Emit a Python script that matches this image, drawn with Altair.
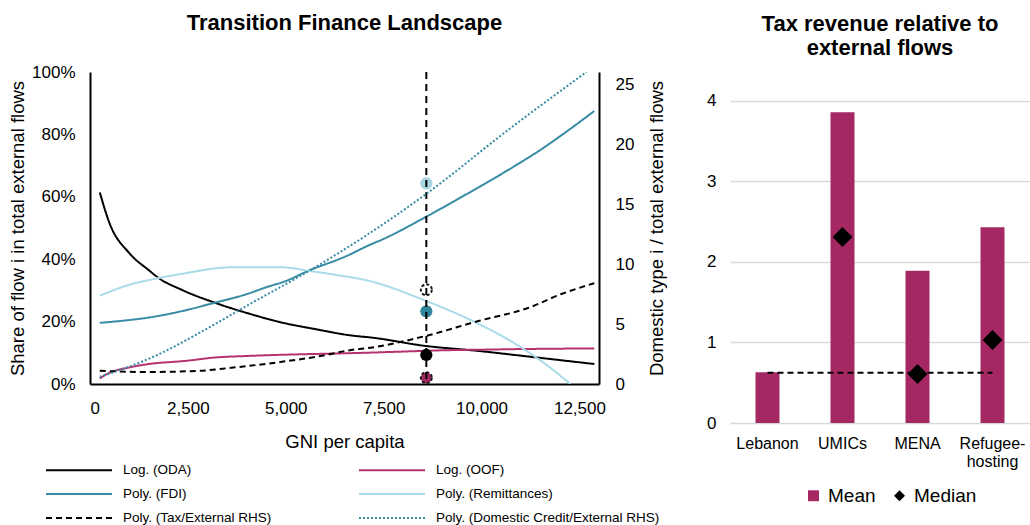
import altair as alt
import pandas as pd

FONT = "Liberation Sans"

# ---- Trend lines (GNI per capita vs. value) ----
oda_gni = [250, 500, 1000, 1500, 1750, 2340, 3200, 4050, 4900, 5750, 6770, 7110, 8570, 9920, 11200, 12880]
oda_val = [61.4, 51.5, 42.0, 36.5, 34.0, 30.2, 26.0, 22.6, 19.7, 17.6, 15.4, 15.0, 12.2, 10.6, 8.8, 6.4]

oof_gni = [250, 500, 1000, 1500, 2430, 3200, 4050, 5000, 6000, 7000, 8000, 9000, 10000, 11000, 12880]
oof_val = [1.8, 3.6, 5.3, 6.4, 7.4, 8.5, 9.0, 9.4, 9.7, 10.0, 10.4, 10.8, 11.0, 11.2, 11.4]

fdi_gni = [250, 1000, 1500, 2500, 3200, 4000, 4500, 5000, 5580, 6550, 7110, 7500, 8570, 9500, 10800, 11500, 12050, 12880]
fdi_val = [19.6, 20.5, 21.3, 23.8, 26.1, 28.8, 31.0, 33.0, 36.3, 41.0, 44.4, 46.5, 53.5, 60.0, 69.5, 75.0, 79.8, 87.5]

rem_gni = [250, 1060, 1500, 2340, 3620, 4900, 5580, 6270, 7110, 8570, 9920, 10860, 11630, 12270]
rem_val = [28.3, 32.0, 33.3, 35.3, 37.4, 37.4, 36.3, 35.0, 33.1, 26.7, 19.3, 12.9, 6.4, 0.0]

tax_gni = [250, 1500, 2800, 3600, 4900, 6000, 6600, 7110, 8570, 9920, 11200, 12040, 12880]
tax_val = [1.1, 1.0, 1.1, 1.35, 1.85, 2.4, 2.8, 3.0, 4.0, 5.25, 6.35, 7.5, 8.4]

cred_gni = [250, 1500, 3200, 4050, 5580, 7110, 8570, 10770, 12680]
cred_val = [0.6, 2.1, 5.0, 6.6, 9.4, 12.5, 15.8, 21.4, 26.0]

series_names = [
    "Log. (ODA)",
    "Log. (OOF)",
    "Poly. (FDI)",
    "Poly. (Remittances)",
    "Poly. (Tax/External RHS)",
    "Poly. (Domestic Credit/External RHS)",
]
series_colors = ["#000000", "#b8316f", "#378ba4", "#aadbe8", "#000000", "#378ba4"]
series_dash = [[1, 0], [1, 0], [1, 0], [1, 0], [6, 4], [2, 2]]

# ---- Lebanon markers at its GNI per capita (left-axis scale, %) ----
lebanon_gni = 8590
dot_names = ["Remittances", "FDI", "ODA"]
dot_vals = [64.3, 23.3, 9.3]
dot_fill = ["#a9d6e3", "#31859c", "#000000"]
ring_names = ["Domestic credit", "OOF"]
ring_vals = [30.2, 2.0]
ring_fill = ["#ffffff", "#a52862"]

# ---- Tax revenue relative to external flows ----
groups = ["Lebanon", "UMICs", "MENA", "Refugee-hosting"]
mean_vals = [0.63, 3.86, 1.89, 2.43]
median_groups = ["UMICs", "MENA", "Refugee-hosting"]
median_vals = [2.31, 0.61, 1.03]
lebanon_ref = 0.625

rows = []
for name, g, v, side in [
    (series_names[0], oda_gni, oda_val, "L"),
    (series_names[1], oof_gni, oof_val, "L"),
    (series_names[2], fdi_gni, fdi_val, "L"),
    (series_names[3], rem_gni, rem_val, "L"),
    (series_names[4], tax_gni, tax_val, "R"),
    (series_names[5], cred_gni, cred_val, "R"),
]:
    for gi, vi in zip(g, v):
        rows.append({"series": name, "gni": gi, "value": vi, "side": side})
lines_df = pd.DataFrame(rows)

x_enc = alt.X(
    "gni:Q",
    scale=alt.Scale(domain=[0, 13000], nice=False),
    axis=alt.Axis(values=[0, 2500, 5000, 7500, 10000, 12500], format=",d",
                  title="GNI per capita", labelPadding=16, titlePadding=16),
)
color_enc = alt.Color(
    "series:N",
    scale=alt.Scale(domain=series_names, range=series_colors),
    legend=alt.Legend(
        title=None, orient="none", legendX=-23, legendY=386, columns=2, direction="horizontal",
        symbolType="M-3,0H3", symbolSize=484, symbolStrokeWidth=2,
        labelFontSize=13.5, labelOffset=32, columnPadding=83, rowPadding=5, labelLimit=320,
        labelColor="#000000",
    ),
)
dash_enc = alt.StrokeDash(
    "series:N",
    scale=alt.Scale(domain=series_names, range=series_dash),
    legend=alt.Legend(title=None),
)

left_lines = alt.Chart(lines_df).transform_filter(alt.datum.side == "L").mark_line(
    strokeWidth=2, clip=True, interpolate="monotone"
).encode(
    x=x_enc,
    y=alt.Y(
        "value:Q",
        scale=alt.Scale(domain=[0, 100], nice=False),
        axis=alt.Axis(values=[0, 20, 40, 60, 80, 100], labelExpr="datum.value + '%'",
                      title="Share of flow i in total external flows",
                      labelPadding=15, titlePadding=4),
    ),
    color=color_enc,
    strokeDash=dash_enc,
    order="gni:Q",
)

dots_df = pd.DataFrame({"name": dot_names, "value": dot_vals, "fill": dot_fill, "gni": lebanon_gni})
rings_df = pd.DataFrame({"name": ring_names, "value": ring_vals, "fill": ring_fill, "gni": lebanon_gni})

dots = alt.Chart(dots_df).mark_point(shape="circle", filled=True, opacity=1, size=150).encode(
    x="gni:Q", y="value:Q", fill=alt.Fill("fill:N", scale=None)
)
rings = alt.Chart(rings_df).mark_point(
    shape="circle", opacity=1, size=120, stroke="#1b1b1b", strokeWidth=2, strokeDash=[3, 2],
    fillOpacity=1,
).encode(x="gni:Q", y="value:Q", fill=alt.Fill("fill:N", scale=None))

vline = alt.Chart(pd.DataFrame({"gni": [lebanon_gni]})).mark_rule(
    color="#000000", strokeWidth=2, strokeDash=[7, 5]
).encode(x="gni:Q")

right_lines = alt.Chart(lines_df).transform_filter(alt.datum.side == "R").mark_line(
    strokeWidth=2, clip=True, interpolate="monotone"
).encode(
    x=x_enc,
    y=alt.Y(
        "value:Q",
        scale=alt.Scale(domain=[0, 26], nice=False),
        axis=alt.Axis(orient="right", values=[0, 5, 10, 15, 20, 25],
                      title="Domestic type i / total external flows", titleAngle=270,
                      labelPadding=16, titlePadding=33),
    ),
    color=color_enc,
    strokeDash=dash_enc,
    order="gni:Q",
)

left_group = alt.layer(left_lines, dots, rings, vline)
landscape = alt.layer(left_group, right_lines).resolve_scale(y="independent").properties(
    width=509, height=312,
    title=alt.TitleParams("Transition Finance Landscape", fontSize=22, font=FONT,
                          fontWeight="bold", anchor="middle", offset=28),
)

# ---- right panel ----
bars_df = pd.DataFrame({"group": groups, "value": mean_vals, "kind": "Mean"})
med_df = pd.DataFrame({"group": median_groups, "value": median_vals, "kind": "Median"})
ref_df = pd.DataFrame({"group": ["Lebanon", "Refugee-hosting"], "value": [lebanon_ref, lebanon_ref]})

bx = alt.X(
    "group:N", sort=groups,
    scale=alt.Scale(domain=groups, paddingInner=0, paddingOuter=0),
    axis=alt.Axis(title=None, labelAngle=0, domain=False, ticks=False, labelFontSize=16,
                  labelPadding=12, labelLineHeight=18,
                  labelExpr="datum.label == 'Refugee-hosting' ? ['Refugee-', 'hosting'] : datum.label"),
)
by = alt.Y(
    "value:Q",
    scale=alt.Scale(domain=[0, 4.36], nice=False),
    axis=alt.Axis(title=None, values=[0, 1, 2, 3, 4], format="d", domain=False, ticks=False,
                  grid=True, gridColor="#d9d9d9", gridWidth=1.5, labelPadding=14),
)
kind_color = alt.Color(
    "kind:N",
    scale=alt.Scale(domain=["Mean", "Median"], range=["#a52862", "#000000"]),
    legend=alt.Legend(title=None, orient="none", direction="horizontal", legendX=74, legendY=414,
                      symbolSize=120, labelFontSize=19, labelOffset=5, columnPadding=14,
                      symbolStrokeWidth=0, labelColor="#000000"),
)
kind_shape = alt.Shape(
    "kind:N",
    scale=alt.Scale(domain=["Mean", "Median"], range=["square", "diamond"]),
    legend=alt.Legend(title=None),
)

bars = alt.Chart(bars_df).mark_bar(size=24).encode(x=bx, y=by, color=kind_color)
ref_line = alt.Chart(ref_df).mark_line(color="#000000", strokeWidth=2, strokeDash=[6, 4]).encode(
    x=alt.X("group:N", sort=groups), y="value:Q"
)
medians = alt.Chart(med_df).mark_point(filled=True, size=400, opacity=1).encode(
    x=alt.X("group:N", sort=groups), y="value:Q", color=kind_color, shape=kind_shape
)

tax_panel = alt.layer(bars, ref_line, medians).properties(
    width=300, height=351,
    title=alt.TitleParams(["Tax revenue relative to", "external flows"], fontSize=22, font=FONT,
                          fontWeight="bold", anchor="middle", lineHeight=24, offset=12),
)

chart = alt.hconcat(landscape, tax_panel, spacing=39).resolve_scale(
    color="independent", shape="independent", strokeDash="independent"
).resolve_legend(color="independent", shape="independent", strokeDash="independent").properties(
    padding={"left": 8, "top": 12, "right": 0, "bottom": 0}
).configure(font=FONT).configure_view(stroke=None).configure_axis(
    labelFont=FONT, titleFont=FONT, labelFontSize=17, titleFontSize=18.5, titleFontWeight="normal",
    labelColor="#000000", titleColor="#000000", domainColor="#000000", domainWidth=2,
    ticks=False, grid=False,
).configure_legend(labelFont=FONT)

chart.save("out.html", embed_options={"renderer": "svg", "actions": False})
